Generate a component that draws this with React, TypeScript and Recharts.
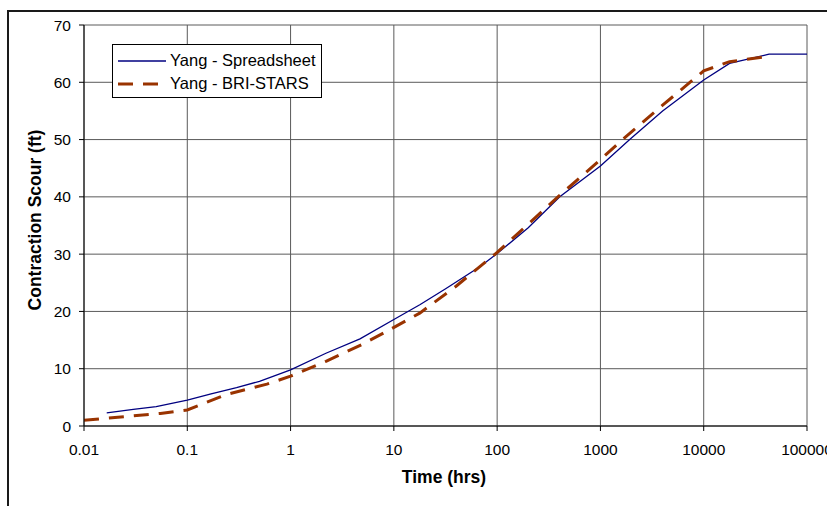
import { LineChart, Line, XAxis, YAxis, CartesianGrid, Legend, Label } from "recharts";

// Yang - Spreadsheet (hours, ft)
const spreadsheetTime = [0.0166, 0.03, 0.05, 0.1, 0.17, 0.3, 0.5, 1, 2.2, 4.7, 10, 18, 32, 68, 100, 200, 404, 1000, 1920, 4000, 10000, 17800, 42900, 100000];
const spreadsheetScour = [2.3, 2.9, 3.4, 4.5, 5.6, 6.7, 7.8, 9.8, 12.7, 15.2, 18.6, 21.2, 24.0, 27.8, 30.1, 34.6, 40, 45.4, 50, 55, 60.4, 63.3, 64.9, 64.9];

// Yang - BRI-STARS (hours, ft)
const briStarsTime = [0.01, 0.055, 0.1, 0.24, 0.59, 1, 2.2, 5, 9.1, 17.8, 40, 78, 100, 400, 1000, 1640, 4000, 10000, 17800, 41600];
const briStarsScour = [1.0, 2.2, 2.8, 5.5, 7.3, 8.7, 11.3, 14.3, 16.8, 19.7, 24.4, 28.7, 30.3, 40.2, 46.5, 50, 56, 62, 63.6, 64.5];

const timeTicks = [0.01, 0.1, 1, 10, 100, 1000, 10000, 100000];
const scourTicks = [0, 10, 20, 30, 40, 50, 60, 70];

const seriesNames = ["Yang - Spreadsheet", "Yang - BRI-STARS"];

const spreadsheetData = spreadsheetTime.map((t, i) => ({ time: t, scour: spreadsheetScour[i] }));
const briStarsData = briStarsTime.map((t, i) => ({ time: t, scour: briStarsScour[i] }));

const FONT = "'Liberation Sans', Arial, sans-serif";

const series = [
  { name: seriesNames[0], color: "#000080", width: 1.3, dash: undefined as string | undefined },
  { name: seriesNames[1], color: "#993300", width: 3, dash: "15 10" },
];

function LegendBox() {
  return (
    <div
      style={{
        width: 208,
        height: 52,
        border: "1px solid #000",
        background: "#fff",
        fontFamily: FONT,
        fontSize: 16.5,
        color: "#000",
        boxSizing: "content-box",
      }}
    >
      {series.map((s, i) => (
        <div key={s.name} style={{ display: "flex", alignItems: "center", height: 23, marginTop: i === 0 ? 4 : 0 }}>
          <svg width={57} height={10} style={{ display: "block" }}>
            <line
              x1={5}
              x2={53}
              y1={5}
              y2={5}
              stroke={s.color}
              strokeWidth={s.width}
              strokeDasharray={s.dash}
            />
          </svg>
          <span style={{ whiteSpace: "nowrap" }}>{s.name}</span>
        </div>
      ))}
    </div>
  );
}

export default function App() {
  return (
    <div style={{ position: "absolute", left: 0, top: 0, width: 827, height: 506, overflow: "hidden", background: "#fff" }}>
      {/* outer chart frame (top and left edges visible) */}
      <div
        style={{
          position: "absolute",
          left: 7,
          top: 10,
          width: 830,
          height: 510,
          borderTop: "2px solid #1a1a1a",
          borderLeft: "2px solid #1a1a1a",
        }}
      />
      <div style={{ position: "absolute", left: 0, top: 0 }}>
        <LineChart width={827} height={506} margin={{ top: 25, right: 20, bottom: 30, left: 24 }}>
          <CartesianGrid stroke="#5a5a5a" strokeWidth={1} />
          <XAxis
            dataKey="time"
            type="number"
            scale="log"
            domain={[0.01, 100000]}
            ticks={timeTicks}
            interval={0}
            allowDataOverflow
            tickFormatter={(v: number) => String(v)}
            height={50}
            axisLine={{ stroke: "#000" }}
            tickLine={{ stroke: "#000" }}
            tickSize={5}
            tickMargin={13}
            tick={{ fill: "#000", fontSize: 15.5, fontFamily: FONT }}
          >
            <Label
              content={() => (
                <text x={444} y={483} textAnchor="middle" fontFamily={FONT} fontSize={17.5} fontWeight="bold" fill="#000">
                  Time (hrs)
                </text>
              )}
            />
          </XAxis>
          <YAxis
            type="number"
            domain={[0, 70]}
            ticks={scourTicks}
            interval={0}
            width={60}
            axisLine={{ stroke: "#000" }}
            tickLine={{ stroke: "#000" }}
            tickSize={5}
            tickMargin={8}
            tick={{ fill: "#000", fontSize: 15.5, fontFamily: FONT }}
          >
            <Label
              content={() => (
                <text
                  x={0}
                  y={0}
                  transform="translate(41, 220) rotate(-90)"
                  textAnchor="middle"
                  fontFamily={FONT}
                  fontSize={17.5}
                  fontWeight="bold"
                  fill="#000"
                >
                  Contraction Scour (ft)
                </text>
              )}
            />
          </YAxis>
          <Legend
            layout="vertical"
            align="center"
            verticalAlign="middle"
            wrapperStyle={{ left: 112, top: 44, width: 210 }}
            content={() => <LegendBox />}
          />
          <Line
            data={spreadsheetData}
            dataKey="scour"
            name={series[0].name}
            type="linear"
            stroke={series[0].color}
            strokeWidth={series[0].width}
            dot={false}
            isAnimationActive={false}
          />
          <Line
            data={briStarsData}
            dataKey="scour"
            name={series[1].name}
            type="linear"
            stroke={series[1].color}
            strokeWidth={series[1].width}
            strokeDasharray={series[1].dash}
            dot={false}
            isAnimationActive={false}
          />
        </LineChart>
      </div>
    </div>
  );
}
